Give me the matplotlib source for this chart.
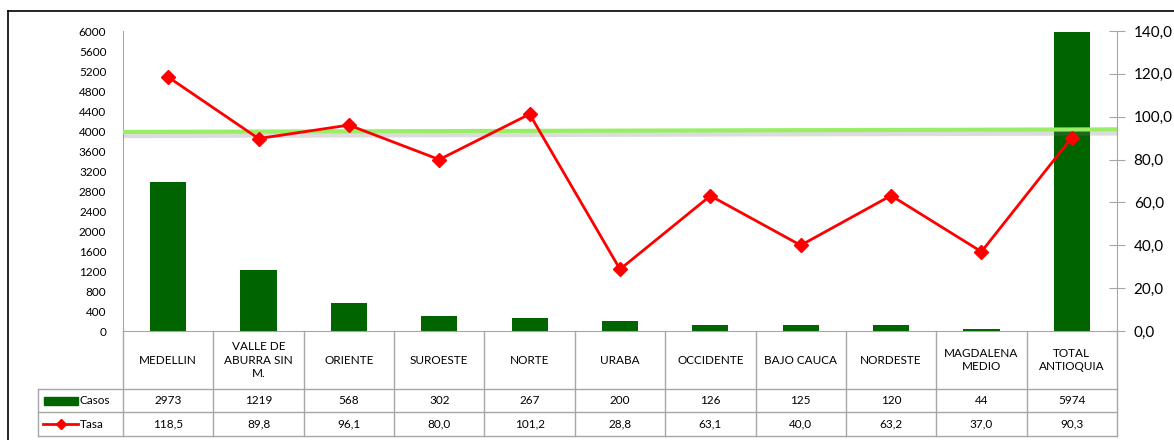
import matplotlib.pyplot as plt
import matplotlib.patheffects as pe
from matplotlib.lines import Line2D
from matplotlib.patches import Rectangle
import numpy as np

plt.rcParams['font.family'] = ['Lato', 'DejaVu Sans']

# datos
regiones = ["MEDELLIN", "VALLE DE\nABURRA SIN\nM.", "ORIENTE", "SUROESTE", "NORTE",
            "URABA", "OCCIDENTE", "BAJO CAUCA", "NORDESTE", "MAGDALENA\nMEDIO",
            "TOTAL\nANTIOQUIA"]
casos = [2973, 1219, 568, 302, 267, 200, 126, 125, 120, 44, 5974]
tasa = [118.5, 89.8, 96.1, 80.0, 101.2, 28.8, 63.1, 40.0, 63.2, 37.0, 90.3]
linea_ref = [92.9, 94.1]   # línea verde (inicio, fin) en eje derecho

W, H = 1174, 440
fig = plt.figure(figsize=(W / 100, H / 100), dpi=100)

x0, x1, ytop, ybot = 123, 1117, 31, 331
ax = fig.add_axes([x0 / W, 1 - ybot / H, (x1 - x0) / W, (ybot - ytop) / H])
ax2 = ax.twinx()

verde = "#006400"
gris = "#a6a6a6"
x = np.arange(len(regiones))

ax.bar(x, casos, width=0.4, color=verde, zorder=2)
ax.set_xlim(-0.5, len(regiones) - 0.5)
ax.set_ylim(0, 6000)
ax.set_yticks(np.arange(0, 6001, 400))
ax.tick_params(axis="y", length=0, labelsize=8.5, pad=12)
ax.set_xticks([])
for s in ["top", "right"]:
    ax.spines[s].set_visible(False)
ax.spines["left"].set_color(gris)
ax.spines["bottom"].set_color(gris)

ax2.plot([-0.5, len(regiones) - 0.5], linea_ref, color="#99ee66", lw=3, zorder=3,
         path_effects=[pe.SimpleLineShadow(offset=(0, -2), shadow_color="#777777", alpha=0.25,
                                           linewidth=5),
                       pe.Normal()])
ax2.plot(x, tasa, color="red", lw=2, marker="D", markersize=7, zorder=4)
ax2.set_ylim(0, 140)
ax2.set_yticks(np.arange(0, 141, 20))
ax2.set_yticklabels([f"{v:.1f}".replace(".", ",") for v in np.arange(0, 141, 20)])
ax2.tick_params(axis="y", direction="inout", length=12, color=gris, labelsize=11, pad=6)
for s in ["top", "left", "bottom"]:
    ax2.spines[s].set_visible(False)
ax2.spines["right"].set_color(gris)

# tabla de datos y marco
tb = fig.add_axes([0, 0, 1, 1])
tb.set_xlim(0, W)
tb.set_ylim(H, 0)
tb.axis("off")
tb.plot([8, W], [11, 11], color="black", lw=1.2)
tb.plot([8, 8], [11, H], color="black", lw=1.2)

n = len(regiones)
cw = (x1 - x0) / n
r1, r2, r3 = 389, 412, 436
for i in range(n + 1):
    xc = x0 + i * cw
    tb.plot([xc, xc], [ybot, r3], color=gris, lw=1)
for yy in [r1, r2, r3]:
    tb.plot([38, x1], [yy, yy], color=gris, lw=1)
tb.plot([38, 38], [r1, r3], color=gris, lw=1)

for i in range(n):
    xc = x0 + (i + 0.5) * cw
    tb.text(xc, (ybot + r1) / 2, regiones[i], ha="center", va="center", fontsize=8.5,
            linespacing=1.3)
    tb.text(xc, (r1 + r2) / 2, str(casos[i]), ha="center", va="center", fontsize=8.5)
    tb.text(xc, (r2 + r3) / 2, f"{tasa[i]:.1f}".replace(".", ","), ha="center",
            va="center", fontsize=8.5)

tb.add_patch(Rectangle((44, 397), 34, 8, color=verde))
tb.text(80, (r1 + r2) / 2, "Casos", ha="left", va="center", fontsize=8.5)
tb.add_line(Line2D([43, 78], [424, 424], color="red", lw=2))
tb.plot([61], [424], marker="D", color="red", markersize=5)
tb.text(80, (r2 + r3) / 2, "Tasa", ha="left", va="center", fontsize=8.5)

fig.savefig("out.png", dpi=100)
